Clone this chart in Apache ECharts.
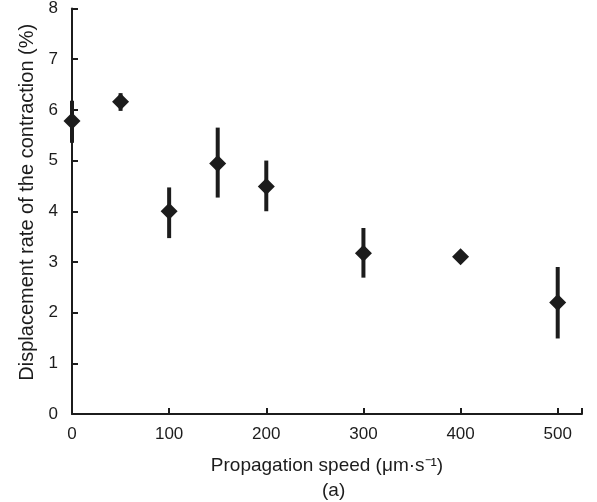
<!DOCTYPE html>
<html>
<head>
<meta charset="utf-8">
<script src="https://cdn.jsdelivr.net/npm/echarts@6/dist/echarts.min.js"></script>
<style>
  html, body { margin: 0; padding: 0; background: #fff; }
  #main { width: 597px; height: 502px; }
</style>
</head>
<body>
<div id="main"></div>
<script>
// values
const speeds = [0, 50, 100, 150, 200, 300, 400, 500];
const rates = [5.78, 6.16, 4.0, 4.94, 4.49, 3.17, 3.1, 2.2];
const upper = [6.18, 6.33, 4.47, 5.65, 5.0, 3.67, 3.15, 2.9];
const lower = [5.35, 5.98, 3.47, 4.27, 4.0, 2.69, 3.05, 1.49];
const xTicks = [0, 100, 200, 300, 400, 500];
const yTicks = [0, 1, 2, 3, 4, 5, 6, 7, 8];

const ink = '#1c1c1c';
const font = 'Liberation Sans, Arial, sans-serif';

const chart = echarts.init(document.getElementById('main'));

const points = speeds.map((s, i) => [s, rates[i]]);
const bars = speeds.map((s, i) => [s, lower[i], upper[i]]);

const option = {
  animation: false,
  backgroundColor: '#fff',
  grid: { left: 72, right: 15, top: 6, bottom: 88 },
  title: {
    text: '(a)',
    left: 322,
    top: 481,
    padding: 0,
    textStyle: { fontFamily: font, fontSize: 19, fontWeight: 'normal', color: ink }
  },
  xAxis: {
    type: 'value',
    min: 0,
    max: 525,
    interval: 100,
    name: 'Propagation speed (μm·s⁻¹)',
    nameLocation: 'middle',
    nameGap: 42,
    nameTextStyle: { fontFamily: font, fontSize: 19, color: ink },
    axisLine: { lineStyle: { color: ink, width: 2 } },
    axisTick: { inside: true, length: 6, lineStyle: { color: ink, width: 2 } },
    axisLabel: {
      fontFamily: font, fontSize: 17, color: ink, margin: 12,
      formatter: v => xTicks.includes(v) ? String(v) : ''
    },
    splitLine: { show: false }
  },
  yAxis: {
    type: 'value',
    min: 0,
    max: 8,
    interval: 1,
    name: 'Displacement rate of the contraction (%)',
    nameLocation: 'middle',
    nameGap: 35,
    nameTextStyle: { fontFamily: font, fontSize: 20, color: ink, padding: [0, 0, 0, 18] },
    axisLine: { show: true, lineStyle: { color: ink, width: 2 } },
    axisTick: { show: true, inside: true, length: 6, lineStyle: { color: ink, width: 2 } },
    axisLabel: {
      fontFamily: font, fontSize: 17, color: ink, margin: 14,
      formatter: v => yTicks.includes(v) ? String(v) : ''
    },
    splitLine: { show: false }
  },
  series: [
    {
      // error bars
      type: 'custom',
      data: bars,
      clip: false,
      renderItem: function (params, api) {
        const top = api.coord([api.value(0), api.value(2)]);
        const bottom = api.coord([api.value(0), api.value(1)]);
        return {
          type: 'line',
          shape: { x1: top[0], y1: top[1], x2: bottom[0], y2: bottom[1] },
          style: { stroke: ink, lineWidth: 4 }
        };
      },
      z: 2
    },
    {
      type: 'scatter',
      data: points,
      symbol: 'diamond',
      symbolSize: 17,
      clip: false,
      itemStyle: { color: ink, opacity: 1 },
      z: 3
    }
  ]
};

chart.setOption(option);
</script>
</body>
</html>
